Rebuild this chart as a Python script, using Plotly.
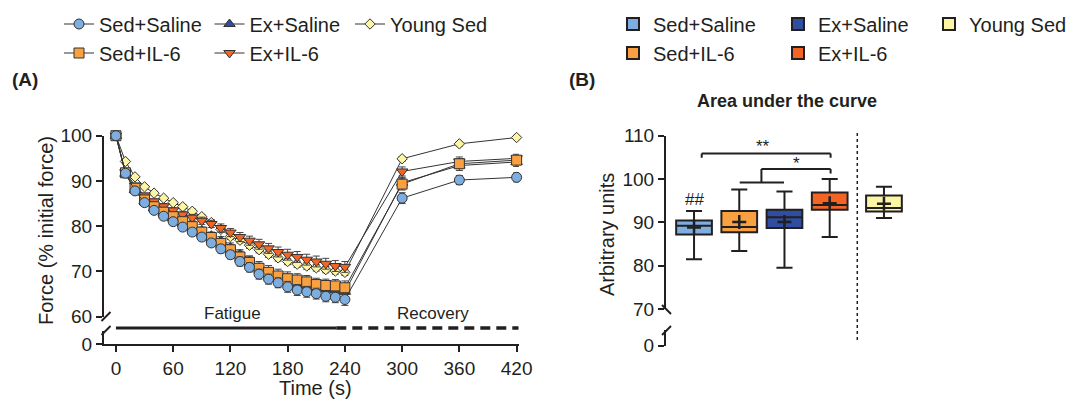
import plotly.graph_objects as go

W, H = 1072, 404


def px(x):
    return x / W


def py(y):
    return 1 - y / H


# ---------------- data: panel A ----------------
time_s = [0, 10, 20, 30, 40, 50, 60, 70, 80, 90, 100, 110, 120, 130, 140, 150,
          160, 170, 180, 190, 200, 210, 220, 230, 240, 300, 360, 420]

sed_saline = [100, 91.7, 87.8, 85.2, 83.5, 82.2, 81.0, 79.8, 78.7, 77.6, 76.3, 75.0, 73.7,
              72.2, 70.9, 69.4, 68.3, 67.5, 66.6, 65.9, 65.5, 65.1, 64.5, 64.3, 63.8,
              86.2, 90.2, 90.8]
sed_saline_err = [0, 0.3, 0.4, 0.5, 0.5, 0.6, 0.6, 0.7, 0.7, 0.8, 0.8, 0.9, 0.9, 1.0, 1.0,
                  1.1, 1.1, 1.1, 1.2, 1.2, 1.2, 1.2, 1.2, 1.2, 1.3, 1.2, 1.0, 1.0]

sed_il6 = [100, 91.8, 88.4, 85.8, 84.3, 83.1, 82.1, 81.0, 79.9, 78.7, 77.5, 76.2, 74.8,
           73.2, 72.0, 70.7, 69.8, 69.0, 68.4, 68.1, 67.7, 67.1, 66.9, 66.8, 66.4,
           89.3, 93.8, 94.6]
sed_il6_err = [0, 0.3, 0.4, 0.5, 0.6, 0.6, 0.7, 0.7, 0.8, 0.8, 0.9, 1.0, 1.1, 1.3, 1.4,
               1.5, 1.5, 1.5, 1.5, 1.4, 1.4, 1.4, 1.4, 1.4, 1.5, 1.3, 1.1, 1.0]

ex_saline = [100, 91.6, 88.0, 85.6, 84.0, 82.8, 81.8, 80.8, 79.9, 79.0, 77.9, 76.8, 75.3,
             73.8, 72.3, 70.7, 69.4, 68.4, 67.7, 67.2, 66.8, 66.4, 66.1, 65.8, 65.5,
             89.6, 93.4, 94.2]
ex_saline_err = [0, 0.3, 0.4, 0.5, 0.5, 0.6, 0.6, 0.7, 0.7, 0.8, 0.8, 0.9, 1.0, 1.0, 1.1,
                 1.1, 1.2, 1.2, 1.2, 1.2, 1.2, 1.2, 1.2, 1.2, 1.2, 1.2, 1.1, 1.0]

ex_il6 = [100, 91.9, 89.0, 86.8, 85.5, 84.4, 83.5, 82.6, 81.9, 81.2, 80.5, 79.6, 78.6,
          77.6, 76.8, 76.0, 75.1, 74.3, 73.7, 73.2, 72.6, 72.2, 71.7, 71.2, 71.0,
          92.1, 94.3, 95.0]
ex_il6_err = [0, 0.3, 0.4, 0.5, 0.5, 0.6, 0.6, 0.7, 0.7, 0.8, 0.8, 0.9, 0.9, 1.0, 1.0,
              1.1, 1.1, 1.1, 1.2, 1.2, 1.2, 1.2, 1.2, 1.2, 1.2, 1.0, 1.0, 0.9]

young_sed = [100, 94.3, 90.9, 88.7, 87.3, 86.2, 85.2, 84.3, 83.3, 82.1, 80.8, 79.3, 77.7,
             76.9, 75.8, 74.8, 73.8, 73.0, 72.2, 71.6, 71.2, 70.8, 70.4, 70.1, 69.8,
             94.9, 98.2, 99.6]
young_sed_err = [0, 0.2, 0.3, 0.3, 0.4, 0.4, 0.4, 0.5, 0.5, 0.5, 0.6, 0.6, 0.6, 0.6, 0.7,
                 0.7, 0.7, 0.7, 0.7, 0.7, 0.7, 0.7, 0.7, 0.7, 0.7, 0.5, 0.5, 0.4]

x_ticks_a = [0, 60, 120, 180, 240, 300, 360, 420]
y_ticks_a = [60, 70, 80, 90, 100]

# ---------------- data: panel B (area under the curve) ----------------
groups_b = ["Sed+Saline", "Sed+IL-6", "Ex+Saline", "Ex+IL-6", "Young Sed"]
auc_lower = [81.5, 83.4, 79.5, 86.6, 91.0]
auc_q1 = [87.2, 87.7, 88.7, 92.9, 92.5]
auc_median = [89.2, 88.9, 91.2, 94.0, 93.3]
auc_q3 = [90.4, 92.6, 92.9, 96.9, 96.2]
auc_upper = [92.6, 97.6, 97.1, 100.0, 98.2]
auc_mean = [88.8, 90.1, 90.1, 94.4, 94.3]
y_ticks_b = [70, 80, 90, 100, 110]

# layout positions of boxes (category slots on the hidden x axis)
box_pos = [0, 1, 2, 3, 4.2]

# ---------------- styles ----------------
INK = "#231f20"
FONT = "Arial, Liberation Sans, sans-serif"
colors = {
    "Sed+Saline": "#7eaedf",
    "Sed+IL-6": "#f9a040",
    "Ex+Saline": "#2f4e9f",
    "Ex+IL-6": "#f26524",
    "Young Sed": "#fcf5a3",
}
symbols = {
    "Sed+Saline": ("circle", 10),
    "Sed+IL-6": ("square", 10),
    "Ex+Saline": ("triangle-up", 10),
    "Ex+IL-6": ("triangle-down", 10),
    "Young Sed": ("diamond", 8),
}
legend_of_a = {"Sed+Saline": "legend", "Sed+IL-6": "legend",
               "Ex+Saline": "legend2", "Ex+IL-6": "legend2", "Young Sed": "legend3"}
legend_of_b = {"Sed+Saline": "legend4", "Sed+IL-6": "legend4",
               "Ex+Saline": "legend5", "Ex+IL-6": "legend5", "Young Sed": "legend6"}
rank = {"Sed+Saline": 1, "Sed+IL-6": 2, "Ex+Saline": 1, "Ex+IL-6": 2, "Young Sed": 1}

series_a = {
    "Sed+Saline": (sed_saline, sed_saline_err),
    "Sed+IL-6": (sed_il6, sed_il6_err),
    "Ex+Saline": (ex_saline, ex_saline_err),
    "Ex+IL-6": (ex_il6, ex_il6_err),
    "Young Sed": (young_sed, young_sed_err),
}
draw_order = ["Young Sed", "Ex+IL-6", "Ex+Saline", "Sed+IL-6", "Sed+Saline"]

fig = go.Figure()

for name in draw_order:
    vals, errs = series_a[name]
    sym, size = symbols[name]
    fig.add_trace(go.Scatter(
        x=time_s, y=vals, name=name, mode="lines+markers",
        xaxis="x", yaxis="y", cliponaxis=False,
        line=dict(color="#333333", width=1),
        marker=dict(symbol=sym, size=size, color=colors[name],
                    line=dict(color="#333333", width=1)),
        error_y=dict(type="data", array=errs, visible=True, color="#444444",
                     thickness=1, width=3.5),
        legend=legend_of_a[name], legendrank=rank[name],
    ))

# invisible helpers so the lower (broken) axis segments exist
fig.add_trace(go.Scatter(x=[None], y=[None], xaxis="x", yaxis="y2",
                         showlegend=False, hoverinfo="skip"))
fig.add_trace(go.Scatter(x=[None], y=[None], xaxis="x3", yaxis="y4",
                         showlegend=False, hoverinfo="skip"))

for i, g in enumerate(groups_b):
    fig.add_trace(go.Box(
        x=[box_pos[i]], q1=[auc_q1[i]], median=[auc_median[i]], q3=[auc_q3[i]],
        lowerfence=[auc_lower[i]], upperfence=[auc_upper[i]],
        name=g, xaxis="x3", yaxis="y3", width=0.79, whiskerwidth=0.45,
        fillcolor=colors[g], line=dict(color=INK, width=2),
        legend=legend_of_b[g], legendrank=rank[g], hoverinfo="skip",
    ))

fig.add_trace(go.Scatter(
    x=box_pos, y=auc_mean, mode="markers", xaxis="x3", yaxis="y3",
    marker=dict(symbol="cross-thin", size=10, line=dict(color=INK, width=2.5)),
    showlegend=False, hoverinfo="skip",
))

axis_common = dict(showgrid=False, zeroline=False, showline=True, linecolor=INK,
                   linewidth=2, ticks="outside", ticklen=6, tickwidth=2,
                   tickcolor=INK, tickfont=dict(size=19, color=INK), automargin=False)

layout = dict(
    width=W, height=H,
    margin=dict(l=0, r=0, t=0, b=0, pad=0, autoexpand=False),
    paper_bgcolor="white", plot_bgcolor="white",
    font=dict(family=FONT, color=INK, size=19),
    boxmode="overlay",
    xaxis=dict(axis_common, domain=[px(104), px(519)], range=[-12.5, 422.5],
               tickvals=x_ticks_a, anchor="y2"),
    yaxis=dict(axis_common, domain=[py(316.7), py(135.7)], range=[60, 100],
               tickvals=y_ticks_a, anchor="x"),
    yaxis2=dict(axis_common, domain=[py(344), py(331)], range=[0, 3],
                tickvals=[0], anchor="x"),
    xaxis3=dict(domain=[px(666), px(912)], range=[-0.62, 4.82], visible=False,
                anchor="y3", automargin=False),
    yaxis3=dict(axis_common, domain=[py(309), py(135.7)], range=[70, 110],
                tickvals=y_ticks_b, anchor="x3"),
    yaxis4=dict(axis_common, domain=[py(345.7), py(330)], range=[0, 3.6],
                tickvals=[0], anchor="x3"),
    showlegend=True,
)

legend_common = dict(orientation="v", xanchor="left", yanchor="top",
                     bgcolor="rgba(0,0,0,0)", font=dict(size=20, color=INK),
                     itemwidth=30, tracegroupgap=0, traceorder="normal")
leg_top = py(4.5)
layout["legend"] = dict(legend_common, x=px(59), y=leg_top)
layout["legend2"] = dict(legend_common, x=px(209.5), y=leg_top)
layout["legend3"] = dict(legend_common, x=px(350), y=leg_top)
layout["legend4"] = dict(legend_common, x=px(613), y=leg_top)
layout["legend5"] = dict(legend_common, x=px(778), y=leg_top)
layout["legend6"] = dict(legend_common, x=px(929), y=leg_top)

fig.update_layout(**layout)

# ---------------- shapes: axis breaks, phase bars, brackets, divider ----------------
shapes = []


def seg(x0, y0, x1, y1, width=2, dash=None, xref="paper", yref="paper"):
    d = dict(type="line", x0=x0, y0=y0, x1=x1, y1=y1, xref=xref, yref=yref,
             line=dict(color=INK, width=width))
    if dash:
        d["line"]["dash"] = dash
    shapes.append(d)


# panel A axis break slashes
seg(px(101.5), py(321), px(110.5), py(312))
seg(px(101.5), py(335), px(110.5), py(326))
# panel B axis break slashes
seg(px(662), py(305), px(671), py(314))
seg(px(662), py(335), px(671), py(326))

# fatigue / recovery bars (x in data units of seconds)
seg(0, py(328), 231, py(328), width=3, xref="x")
seg(231, py(328), 422, py(328), width=3.5, dash="10px,6px", xref="x")

# divider before Young Sed
seg(3.61, py(133), 3.61, py(343), width=1.5, dash="dot", xref="x3")


# significance brackets (in data units of panel B)
def bracket(xa, xb, ytop, ya_bot, yb_bot):
    seg(xa, ytop, xb, ytop, width=2, xref="x3", yref="y3")
    seg(xa, ytop, xa, ya_bot, width=2, xref="x3", yref="y3")
    seg(xb, ytop, xb, yb_bot, width=2, xref="x3", yref="y3")


bracket(0.17, 3.02, 105.9, 104.9, 104.9)
bracket(1.49, 3.02, 102.3, 99.2, 101.3)
seg(1.01, 99.2, 1.99, 99.2, width=2, xref="x3", yref="y3")

fig.update_layout(shapes=shapes)

# ---------------- text ----------------
ann = []


def text(t, x, y, size=20, bold=False, angle=0, xref="paper", yref="paper"):
    ann.append(dict(text=f"<b>{t}</b>" if bold else t, x=x, y=y, xref=xref, yref=yref,
                    showarrow=False, textangle=angle, xanchor="center", yanchor="middle",
                    font=dict(size=size, color=INK, family=FONT)))


text("(A)", px(25), py(80), size=19, bold=True)
text("(B)", px(582), py(80), size=19, bold=True)
text("Area under the curve", px(787), py(101), size=18, bold=True)
text("Force (% initial force)", px(46), py(231), size=20, angle=-90)
text("Arbitrary units", px(607), py(235), size=20, angle=-90)
text("Time (s)", px(315), py(388), size=20)
text("Fatigue", 122, py(313.5), size=17, xref="x")
text("Recovery", 332, py(313.5), size=17, xref="x")
text("##", 0, 95.2, size=17, xref="x3", yref="y3")
text("**", 1.52, 107.4, size=17, xref="x3", yref="y3")
text("*", 2.27, 103.5, size=17, xref="x3", yref="y3")

fig.update_layout(annotations=ann)

fig.write_html(
    "out.html",
    config={"displayModeBar": False, "responsive": False},
    post_script="document.body.style.margin='0px';document.body.style.overflow='hidden';",
)
